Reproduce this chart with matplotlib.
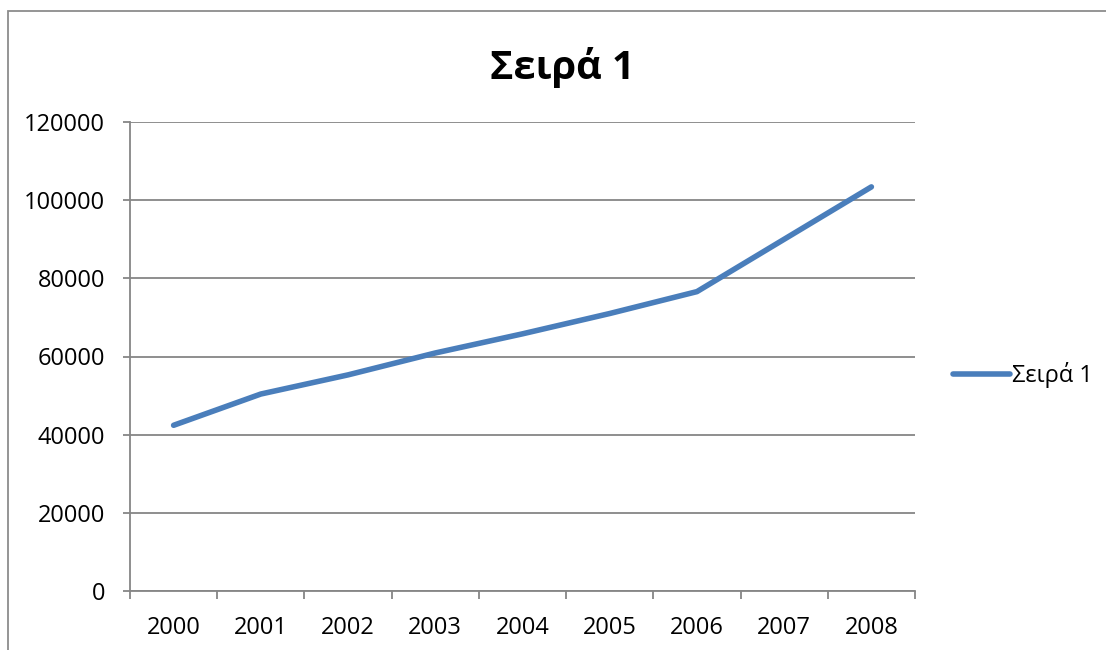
import matplotlib
matplotlib.use("Agg")
import matplotlib.pyplot as plt
from matplotlib.patches import Rectangle

years = ["2000", "2001", "2002", "2003", "2004", "2005", "2006", "2007", "2008"]
values = [42400, 50400, 55300, 60900, 65800, 71000, 76600, 90000, 103400]
series_name = "Σειρά 1"
y_ticks = [0, 20000, 40000, 60000, 80000, 100000, 120000]

plt.rcParams['font.family'] = ['Open Sans', 'DejaVu Sans']

W, H = 1106, 650
fig = plt.figure(figsize=(W / 100, H / 100), dpi=100)
fig.patch.set_facecolor('white')

# outer chart border (cut off at right and bottom)
fig.add_artist(Rectangle((7.5 / W, -0.1), 1.2, (H - 10.5) / H + 0.1,
                         transform=fig.transFigure, fill=False,
                         edgecolor='#8c8c8c', linewidth=1.3))

ax = fig.add_axes([130 / W, 1 - 591 / H, (915 - 130) / W, (591 - 122) / H])
x = list(range(len(years)))
ax.plot(x, values, color='#4a7ebb', linewidth=4.0, solid_capstyle='round',
        solid_joinstyle='round', label=series_name, zorder=3)

ax.set_xlim(-0.5, len(years) - 0.5)
ax.set_ylim(0, 120000)
ax.set_yticks(y_ticks)
ax.set_yticklabels([str(v) for v in y_ticks])
ax.yaxis.grid(True, color='#868686', linewidth=1.3)
ax.set_axisbelow(True)

ax.set_xticks([i - 0.5 for i in range(len(years) + 1)])
ax.set_xticklabels([])
ax.set_xticks(x, minor=True)
ax.set_xticklabels(years, minor=True)
ax.tick_params(axis='x', which='major', direction='out', length=6, width=1.3, color='#868686')
ax.tick_params(axis='x', which='minor', length=0, pad=18, labelsize=17, labelcolor='black')
ax.tick_params(axis='y', direction='out', length=5, width=1.3, color='#868686', pad=13,
               labelsize=17, labelcolor='black')

for s in ['top', 'right']:
    ax.spines[s].set_visible(False)
for s in ['left', 'bottom']:
    ax.spines[s].set_color('#868686')
    ax.spines[s].set_linewidth(1.3)

fig.text(562 / W, 1 - 68 / H, series_name, ha='center', va='center',
         fontsize=28.5, fontweight='bold')

fig.legend(loc='center left', bbox_to_anchor=(953 / W, 1 - 375 / H), frameon=False,
           borderpad=0, borderaxespad=0, handlelength=2.4, handletextpad=0.12,
           fontsize=17)

fig.savefig('out.png', dpi=100, facecolor='white')
